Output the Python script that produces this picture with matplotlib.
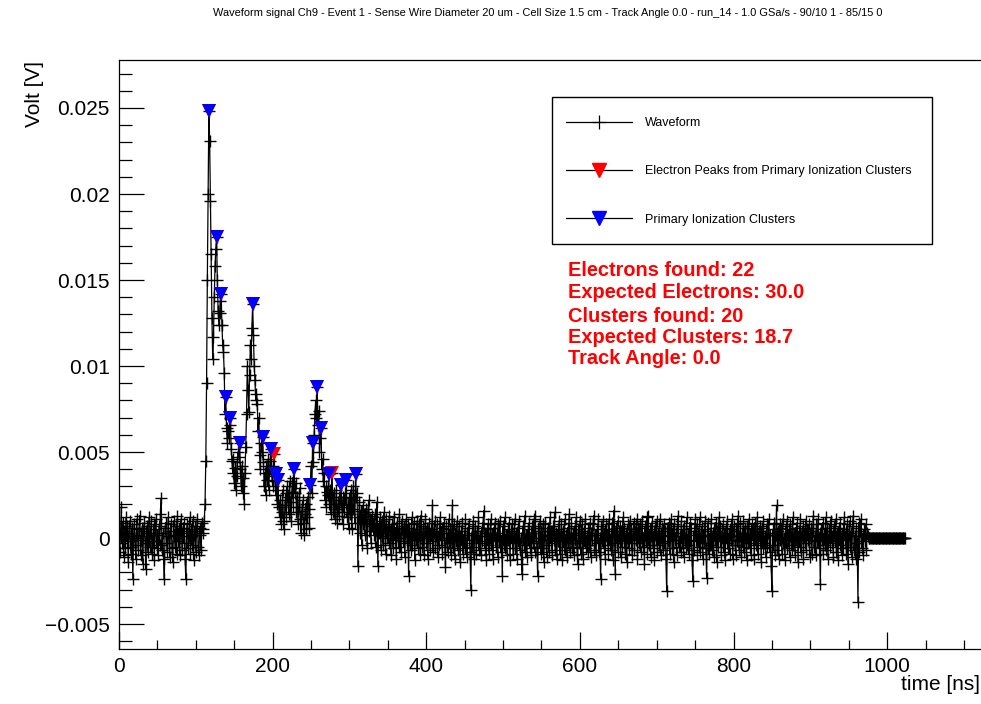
import numpy as np
import matplotlib
matplotlib.use('Agg')
import matplotlib.pyplot as plt
from matplotlib.lines import Line2D
from matplotlib.patches import Rectangle
from matplotlib.ticker import MultipleLocator, FuncFormatter

plt.rcParams['font.family'] = ['Liberation Sans', 'DejaVu Sans']

# waveform samples, 1 ns apart, values in units of 0.1 mV
# baseline before the pulse, t = 0..109 ns
wave_pre = [
    5, -8, 2, 18, -3, 9, -11, 4, -6, 12, -2, 7, -14, 3, 10, -5, -9, 6, -24, 1,
    8, -4, -12, 11, 2, -7, 5, 13, -10, -1, 6, -15, 4, 9, -3, -18, 7, 1, -8, 12,
    -5, 3, 10, -9, -2, 8, -13, 5, 11, -6, 2, -10, 7, -4, 14, 23, -7, 3, -12, -24,
    6, 9, -3, -8, 12, 1, -11, 4, 8, -6, -14, 10, 2, -5, 7, -9, 13, -2, 5, -10,
    3, 11, -7, 6, -3, 9, -12, -24, 4, 8, -6, 1, 12, -9, 5, -4, 10, -13, 2, 7,
    -8, 4, 11, -5, -10, 6, 2, -7, 9, 3,
]
# pulse train, t = 110..330 ns
wave_pulse = [
    5, 10, 20, 45, 90, 150, 200, 248, 231, 196,
    165, 128, 104, 117, 140, 158, 168, 175, 150, 132,
    124, 131, 138, 142, 124, 112, 108, 96, 72, 82,
    64, 55, 62, 58, 66, 70, 52, 45, 38, 46,
    32, 41, 28, 36, 44, 50, 47, 55, 40, 30,
    42, 26, 35, 20, 38, 53, 72, 100, 86, 73,
    95, 112, 104, 122, 136, 118, 100, 92, 80, 84,
    78, 62, 70, 48, 40, 55, 50, 59, 44, 30,
    38, 25, 42, 34, 46, 28, 40, 45, 52, 36,
    30, 42, 49, 33, 25, 37, 20, 34, 18, 12,
    22, 8, 15, 28, 10, 5, 19, 26, 12, 30,
    24, 14, 33, 21, 10, 27, 35, 18, 40, 26,
    32, 15, 24, 8, 18, 29, 11, 3, 16, 22,
    9, 2, 14, 20, 5, 12, 24, 17, 6, 31,
    42, 26, 55, 44, 60, 72, 80, 70, 88, 66,
    74, 50, 58, 64, 40, 46, 33, 38, 22, 30,
    18, 27, 25, 37, 20, 28, 14, 38, 24, 15,
    26, 11, 20, 28, 9, 17, 24, 13, 22, 31,
    18, 8, 24, 15, 26, 20, 34, 12, 19, 6,
    23, 14, 28, 5, 17, 30, 22, 9, 37, 24,
    26, -16, 12, 21, 3, 16, -4, 19, 8, 14,
    2, 17, 10, -6, 15, 22, 4, 11, -3, 13, 7,
]
# noise after the pulse, t = 331..975 ns
wave_post = [
    9, 2, 14, -5, 6, 21, -16, 8, 3, 12, -7, 10, 1, -4, 15, 5, -9, 11, 0, 7,
    -3, 13, 4, -10, 8, 2, -6, 12, -1, 6, -12, 9, 3, -5, 14, 0, -8, 10, 5, -2,
    7, -11, 4, 11, -3, 8, -22, 6, 1, -7, 12, -4, 3, 9, -13, 5, -1, 10, -6, 2,
    8, -9, 13, 0, -5, 7, -10, 4, 11, -3, 6, -12, 2, 9, -7, 5, -2, 19, -8, 3,
    10, -6, 1, 8, -11, 4, -4, 12, -1, 6, -9, 3, 9, -5, -17, 7, 0, -8, 11, -3,
    5, -10, 2, 19, -6, 8, -12, 3, -2, 10, -7, 1, 7, -14, 4, -4, 9, -9, 2, -6,
    11, -3, -11, 6, -1, 8, -8, -30, 3, -5, 10, -12, 2, 7, -9, 4, -3, 12, -7, 1,
    -10, 6, -2, 9, 16, -6, 3, -13, 5, -4, 8, -9, 0, 11, -7, 2, -12, 6, -1, 9,
    -5, 3, -11, 8, -2, 10, -8, 1, -22, 7, -4, 12, -6, 2, -10, 5, -1, 9, -13, 4,
    -3, 8, -9, 1, 11, -6, 3, -12, 6, -2, 10, -7, 0, -15, -21, 7, -4, 13, -8, 2,
    -11, 5, -1, 9, -6, 3, -10, 7, -3, 11, -8, 13, 0, -5, -22, 6, -2, 10, -9, 4,
    -6, 8, -14, 2, 9, -4, -11, 6, 1, -8, 12, -3, 4, -10, 7, -1, 15, -7, 3, -12,
    5, -2, 10, -9, 1, 8, -13, 4, -5, 11, -7, 2, -11, 6, -3, 14, -8, 0, 9, -6,
    3, -10, 7, -1, 12, -5, -15, 5, -3, 10, -9, 2, 8, -12, 4, -2, 11, -6, 1, -8,
    6, -4, 9, -11, 3, -1, 8, 13, -7, 2, -10, 5, -3, 11, -8, 0, -24, 7, -2, 10,
    -6, 3, -12, 8, -1, 5, -9, 11, -4, 2, -7, 9, -13, 16, 4, -21, 6, -3, 10, -8,
    1, 7, -11, 4, -5, 12, -2, 6, -9, 3, -14, 8, 0, -6, 10, -3, 5, -10, 2, 9,
    -7, 4, -1, 11, -12, 6, -3, 8, -8, 1, 10, -5, 3, -15, 7, -2, 12, -9, 13, -4,
    5, -11, 2, 9, -6, 4, -13, 7, -1, 10, -8, 3, -4, 11, -10, 1, 6, -7, 8, -3,
    4, -12, -31, 6, -2, 9, -9, 2, 11, -6, 5, -14, 8, -1, 3, -10, 7, 13, -5, 1,
    -8, 10, -3, 5, -11, 7, 0, -6, 12, -4, 2, -9, 9, -2, 6, -13, -25, 4, -7, 11,
    -1, 8, -10, 3, -5, 12, -8, 1, 7, -12, 5, -3, 10, -6, -23, 4, 9, -9, 2, -4,
    11, -7, 3, -11, 6, -1, 9, -14, 4, -5, 12, -2, 7, -10, 1, 8, -8, 3, -13, 6,
    -3, 10, -6, 2, -9, 5, -1, 11, -12, 4, 7, -4, -10, 8, -2, 13, -7, 1, 9, -11,
    3, -5, 10, -8, 6, 0, -13, 7, -3, 11, -6, 2, -10, 8, -1, 5, -12, 9, -4, 1,
    12, -9, 4, -2, 7, -14, 6, -6, 10, -3, 1, -11, 8, -5, 3, 11, -8, 2, -16, -31,
    5, -4, 9, -10, 2, 19, -7, 4, -12, 8, -1, 6, -9, 11, -3, 0, -13, 7, -6, 10,
    -2, 5, -11, 8, 1, -7, 12, -4, 3, -10, 6, -1, 9, -14, 4, -5, 11, -8, 2, 7,
    -12, 3, -3, 10, -7, 5, -1, 8, -11, 2, 6, -9, 4, 13, -5, 1, -10, 8, -2, 11,
    -6, 3, -27, 5, -1, 9, -9, 2, -4, 12, -7, 6, -12, 1, 8, -5, 10, -3, 4, -11,
    7, -2, 11, -8, 3, -13, 6, -4, 9, 0, -10, 5, -6, 12, -1, 4, -9, 8, -15, 2,
    10, -5, 3, -11, 7, 13, -7, 1, -12, 6, -3, -37, 9, -8, 4, 11, -6, 2, -10, 5,
    -2, 8, -7, 3, 1,
]
# record is flat zero after the digitiser window, t = 976..1023 ns
wave_tail = [0] * 48

# primary ionization clusters (blue) and electron peaks (red), t in ns, v in 0.1 mV
cluster_t = [117, 127, 133, 139, 145, 157, 174, 187, 198, 205,
             207, 228, 249, 252, 258, 263, 273, 289, 296, 308]
cluster_v = [248, 175, 142, 82, 70, 55, 136, 59, 52, 37,
             34, 40, 31, 55, 88, 64, 37, 31, 34, 37]
electron_t = [117, 127, 133, 139, 145, 157, 174, 187, 198, 202, 205,
              207, 228, 249, 252, 258, 263, 273, 277, 289, 296, 308]
electron_v = [248, 175, 142, 82, 70, 55, 136, 59, 52, 49, 37,
              34, 40, 31, 55, 88, 64, 37, 38, 31, 34, 37]

title = ('Waveform signal Ch9 - Event 1 - Sense Wire Diameter 20 um - Cell Size 1.5 cm - '
         'Track Angle 0.0 - run_14 - 1.0 GSa/s - 90/10 1 - 85/15 0')
info_lines = ['Electrons found: 22', 'Expected Electrons: 30.0',
              'Clusters found: 20', 'Expected Clusters: 18.7', 'Track Angle: 0.0']

SCALE = 1e-4  # 0.1 mV -> V
wave = np.array(wave_pre + wave_pulse + wave_post + wave_tail) * SCALE
t = np.arange(len(wave)) * 1.0  # 1 GSa/s

W, H = 981, 704
fig = plt.figure(figsize=(W / 100, H / 100), dpi=100)
# frame in pixels: left 119, right ~986 (cut by the image), top 60, bottom 649
ax = fig.add_axes([119 / W, 1 - 649 / H, (986 - 119) / W, (649 - 60) / H])

ax.plot(t, wave, color='black', lw=0.9, marker='+', ms=8, mew=1.0, zorder=2)
ax.plot(electron_t, np.array(electron_v) * SCALE, ls='none', marker='v', ms=10,
        color='red', mew=0, zorder=3)
ax.plot(cluster_t, np.array(cluster_v) * SCALE, ls='none', marker='v', ms=10,
        color='blue', mew=0, zorder=4)

ax.set_xlim(0, 1128.7)
ax.set_ylim(-0.00645, 0.02779)

ax.xaxis.set_major_locator(MultipleLocator(200))
ax.xaxis.set_minor_locator(MultipleLocator(50))
ax.yaxis.set_major_locator(MultipleLocator(0.005))
ax.yaxis.set_minor_locator(MultipleLocator(0.001))


def fmt_y(v, pos):
    s = '%g' % round(v, 4)
    if s in ('-0', '0'):
        return '0'
    return s.replace('-', '\u2212')


ax.yaxis.set_major_formatter(FuncFormatter(fmt_y))
ax.tick_params(axis='both', which='both', direction='in', top=False, right=False,
               labelsize=15, width=0.9)
ax.tick_params(axis='y', which='major', length=18, pad=6.5)
ax.tick_params(axis='y', which='minor', length=9.4)
ax.tick_params(axis='x', which='major', length=12.5, pad=5.8)
ax.tick_params(axis='x', which='minor', length=6.5)
for sp in ax.spines.values():
    sp.set_linewidth(0.9)

# axis titles ROOT style, at the ends of the axes
fig.text(35 / W, 1 - 61 / H, 'Volt [V]', rotation=90, ha='center', va='top', fontsize=15)
fig.text(980 / W, 1 - 684 / H, 'time [ns]', ha='right', va='center', fontsize=15)

fig.text(548 / W, 1 - 13 / H, title, ha='center', va='center', fontsize=7.9)

# legend: box drawn separately, entries placed inside it
ax.add_patch(Rectangle((552 / W, 1 - 244 / H), 380 / W, 147 / H,
                       transform=fig.transFigure, facecolor='white',
                       edgecolor='black', lw=1.0, zorder=5, clip_on=False))
handles = [
    Line2D([], [], color='black', lw=0.9, marker='+', ms=10, mew=0.9),
    Line2D([], [], color='black', lw=0.9, marker='v', ms=10, mfc='red', mec='red'),
    Line2D([], [], color='black', lw=0.9, marker='v', ms=10, mfc='blue', mec='blue'),
]
labels = ['Waveform', 'Electron Peaks from Primary Ionization Clusters', 'Primary Ionization Clusters']
leg = ax.legend(handles, labels, loc='upper left',
                bbox_to_anchor=(566 / W, 1 - 117 / H),
                bbox_transform=fig.transFigure, fontsize=9.0, numpoints=1,
                borderpad=0, borderaxespad=0, labelspacing=2.9, handlelength=5.3,
                handletextpad=1.05, frameon=False)
leg.set_zorder(6)

# red info text
info_y = [270, 292, 316, 337, 358]
for line, y in zip(info_lines, info_y):
    fig.text(568 / W, 1 - y / H, line, color='red', fontweight='bold', fontsize=14.4,
             ha='left', va='center')

fig.savefig('out.png', dpi=100)
